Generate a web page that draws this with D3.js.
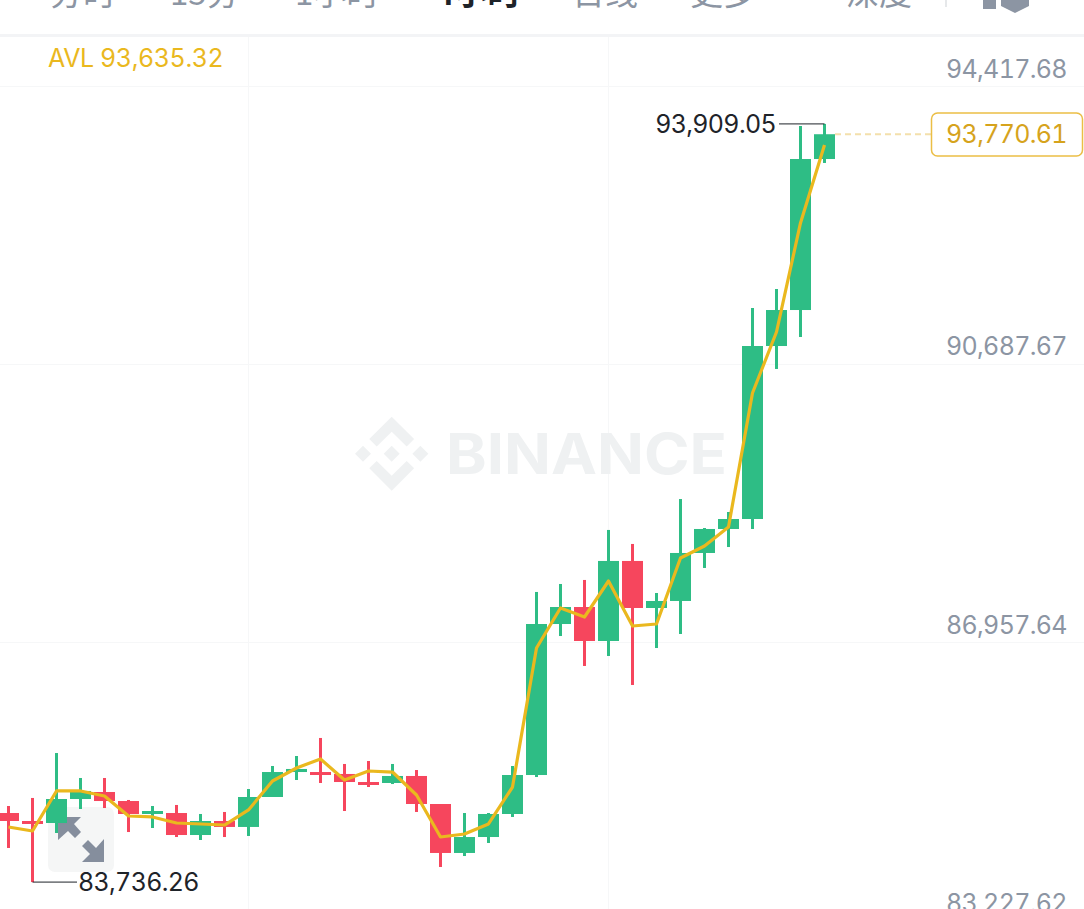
<!DOCTYPE html>
<html><head><meta charset="utf-8">
<script src="https://cdn.jsdelivr.net/npm/d3@7/dist/d3.min.js"></script>
<style>html,body{margin:0;padding:0;background:#fff;overflow:hidden}svg{display:block}
.num{font-variant-numeric:tabular-nums;font-feature-settings:"tnum" 1;letter-spacing:-0.68px}
.avl{letter-spacing:-0.4px}</style>
</head><body><div id="chart"></div>
<script>
const opens  = [84663,84556,84529,84851,84945,84824,84650,84663,84368,84556,84476,84878,85213,85213,85187,85079,85066,85160,84784,84127,84341,84650,85173,87199,87427,86971,88045,87414,87508,88152,88474,88608,90929,91412,93438];
const closes = [84556,84516,84851,84959,84824,84650,84690,84368,84556,84476,84878,85213,85254,85173,85079,85039,85160,84784,84127,84341,84650,85173,87199,87427,86971,88045,87414,87508,88152,88474,88608,90929,91412,93438,93770.61];
const highs  = [84757,84865,85468,85133,85133,84838,84757,84771,84650,84677,84985,85294,85428,85670,85321,85361,85321,85240,84784,84663,84663,85294,87629,87736,87790,88461,88273,87615,88876,88487,88702,91439,91694,93881,93909.05];
const lows   = [84194,83736.26,84395,84717,84730,84408,84462,84341,84301,84341,84355,84878,85106,85066,84690,85012,85052,84677,83939,84086,84261,84610,85146,87038,86636,86770,86381,86877,87065,87951,88232,88474,90621,91050,93385];
const maLine = [84476,84422,84959,84959,84891,84623,84610,84529,84516,84502,84704,85093,85267,85388,85106,85227,85213,84905,84341,84382,84516,85012,86877,87414,87293,87776,87172,87199,88085,88246,88501,90299,91117,92580,93626];
const priceTicks = [94417.68,90687.67,86957.64,83227.62];
const gridIndexes = [10,25];
const tabLabels = ["分时","15分","1小时","4小时","日线","更多","深度"];
const tabX = [50,170,295,435,572,690,846];
const avlValue = 93635.32, lastPrice = 93770.61, highPrice = 93909.05, lowPrice = 83736.26;

const W=1084,H=909;
const FONT='Inter, "Noto Sans", sans-serif';
const CJK='"Noto Sans CJK SC", sans-serif';
const green="#2EBD85",red="#F6465D",gold="#EAB81E",grid="#F6F7F8",gray="#8C95A3",dark="#1E2329";
const fmt=d3.format(",.2f");
const svg=d3.select("#chart").append("svg").attr("width",W).attr("height",H).attr("viewBox",[0,0,W,H]);
const idx=d3.range(opens.length);
const x=d3.scaleLinear().domain([0,34]).range([8.5,824.5]);
const y=d3.scaleLinear().domain([83227.62,94417.68]).range([920,86]);

// header tabs (cropped at the top edge, as in the reference)
svg.append("g").selectAll("text").data(tabLabels).join("text")
  .attr("x",(d,i)=>tabX[i]).attr("y",5)
  .attr("font-family",CJK).attr("font-size",33)
  .attr("font-weight",(d,i)=>i===3?700:400)
  .attr("fill",(d,i)=>i===3?dark:gray).text(d=>d);
svg.append("rect").attr("x",945).attr("y",0).attr("width",2).attr("height",7).attr("fill","#E6E8EA");
svg.append("rect").attr("x",983).attr("y",0).attr("width",13).attr("height",9).attr("fill",gray);
svg.append("path").attr("d","M1001,0H1029V6L1015,13L1001,6Z").attr("fill",gray);
svg.append("rect").attr("x",0).attr("y",34).attr("width",W).attr("height",3).attr("fill","#F3F4F6");

// grid
const gg=svg.append("g").attr("stroke",grid).attr("stroke-width",1);
gg.selectAll("line.h").data(priceTicks).join("line").attr("class","h")
  .attr("x1",0).attr("x2",W).attr("y1",d=>Math.round(y(d))+.5).attr("y2",d=>Math.round(y(d))+.5);
gg.selectAll("line.v").data(gridIndexes).join("line").attr("class","v")
  .attr("x1",d=>x(d)).attr("x2",d=>x(d)).attr("y1",37).attr("y2",H);

// watermark
const wm=svg.append("g").attr("fill","#EFF1F2").attr("transform","translate(391.7,453.7)");
[[-28.7,0],[0,0],[28.7,0]].forEach(([cx,cy])=>wm.append("path").attr("d",`M${cx-8},${cy}L${cx},${cy-8}L${cx+8},${cy}L${cx},${cy+8}Z`));
wm.append("path").attr("d","M0,-37L22.4,-14.6L15,-7.2L0,-22L-15,-7.2L-22.4,-14.6Z");
wm.append("path").attr("d","M0,37L22.4,14.6L15,7.2L0,22L-15,7.2L-22.4,14.6Z");
svg.append("text").attr("x",446).attr("y",474).attr("font-family",FONT).attr("font-weight",700)
  .attr("font-size",56).attr("textLength",281).attr("lengthAdjust","spacingAndGlyphs").attr("fill","#EFF1F2").text("BINANCE");

// expand button
const eb=svg.append("g");
eb.append("rect").attr("x",48).attr("y",807).attr("width",66).attr("height",65).attr("rx",7).attr("fill","#F5F6F6");
eb.append("path").attr("fill","#858E9D").attr("d","M58,817H81L74,824L81,832L75,838L68,831L58,840Z");
eb.append("path").attr("fill","#858E9D").attr("d","M104,839V862H82L90,854L82,846L88,840L96,848Z");

// candles
const cg=svg.append("g");
const up=i=>closes[i]>=opens[i];
cg.selectAll("rect.wick").data(idx).join("rect").attr("class","wick")
  .attr("x",i=>x(i)-1.5).attr("width",3)
  .attr("y",i=>y(highs[i])).attr("height",i=>y(lows[i])-y(highs[i]))
  .attr("fill",i=>up(i)?green:red);
cg.selectAll("rect.body").data(idx).join("rect").attr("class","body")
  .attr("x",i=>x(i)-10.5).attr("width",21)
  .attr("y",i=>y(Math.max(opens[i],closes[i])))
  .attr("height",i=>Math.max(2,Math.abs(y(opens[i])-y(closes[i]))))
  .attr("fill",i=>up(i)?green:red);

// moving average
svg.append("path").attr("fill","none").attr("stroke",gold).attr("stroke-width",3.2).attr("stroke-linejoin","round")
  .attr("d",d3.line().x(i=>x(i)).y(i=>y(maLine[i]))(idx));

// price axis labels
const axis=d3.axisRight(y).tickValues(priceTicks).tickFormat(fmt).tickSize(0).tickPadding(0);
const ag=svg.append("g").attr("transform","translate(946,-17)").call(axis);
ag.select(".domain").remove();
ag.selectAll("text").attr("class","num").attr("font-family",FONT).attr("font-size",25).attr("fill",gray);

// AVL
svg.append("text").attr("class","num avl").attr("x",48).attr("y",67).attr("font-family",FONT).attr("font-size",25)
  .attr("fill",gold).text("AVL "+fmt(avlValue));

// high and low markers
const lastI=34, lowI=lows.indexOf(lowPrice);
svg.append("line").attr("x1",779).attr("x2",x(lastI)).attr("y1",y(highPrice)).attr("y2",y(highPrice)).attr("stroke",dark).attr("stroke-width",1);
svg.append("text").attr("class","num").attr("x",776).attr("y",y(highPrice)).attr("dy","0.35em").attr("text-anchor","end")
  .attr("font-family",FONT).attr("font-size",25).attr("fill",dark).text(fmt(highPrice));
svg.append("line").attr("x1",x(lowI)).attr("x2",77).attr("y1",y(lowPrice)).attr("y2",y(lowPrice)).attr("stroke",dark).attr("stroke-width",1);
svg.append("text").attr("class","num").attr("x",78).attr("y",y(lowPrice)).attr("dy","0.35em")
  .attr("font-family",FONT).attr("font-size",25).attr("fill",dark).text(fmt(lowPrice));

// last price
svg.append("line").attr("x1",x(lastI)+10.5).attr("x2",932).attr("y1",y(lastPrice)).attr("y2",y(lastPrice))
  .attr("stroke","#F3E0AC").attr("stroke-width",2).attr("stroke-dasharray","6 4");
svg.append("rect").attr("x",931.5).attr("y",113).attr("width",151).attr("height",43).attr("rx",6)
  .attr("fill","#fff").attr("stroke","#EBBE45").attr("stroke-width",1.5);
svg.append("text").attr("class","num").attr("x",1006.5).attr("y",y(lastPrice)).attr("dy","0.35em").attr("text-anchor","middle")
  .attr("font-family",FONT).attr("font-size",25).attr("fill","#D6A31C").text(fmt(lastPrice));
</script></body></html>
